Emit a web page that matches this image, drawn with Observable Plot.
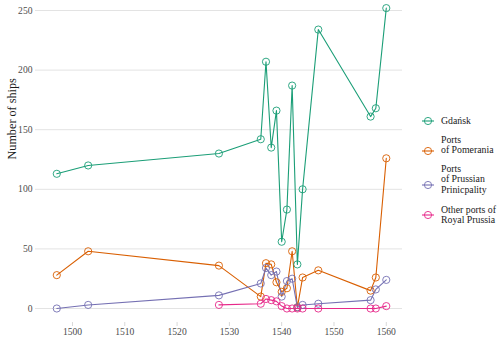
<!DOCTYPE html>
<html>
<head>
<meta charset="utf-8">
<script src="https://cdn.jsdelivr.net/npm/d3@7"></script>
<script src="https://cdn.jsdelivr.net/npm/@observablehq/plot@0.6"></script>
<style>
  body { margin: 0; background: #fff; }
  #wrap { position: relative; width: 500px; height: 340px; font-family: "Liberation Serif", "Times New Roman", Times, "DejaVu Serif", serif; }
  #wrap svg text { font-family: "Liberation Serif", "Times New Roman", Times, "DejaVu Serif", serif !important; }
  .leg { position: absolute; font-size: 9.8px; line-height: 10.5px; color: #1a1a1a; white-space: nowrap; font-family: "Liberation Serif", "Times New Roman", Times, serif; }
  .key { position: absolute; }
</style>
</head>
<body>
<div id="wrap"></div>
<script>
const years = [1497,1503,1528,1536,1537,1538,1539,1540,1541,1542,1543,1544,1547,1557,1558,1560];
const gdansk =    [113,120,130,142,207,135,166,56,83,187,37,100,234,161,168,252];
const pomerania = [28,48,36,10,38,37,22,14,17,48,1,26,32,15,26,126];
const prussian =  [0,3,11,21,34,28,31,10,23,25,1,3,4,7,16,24];
const other =     [null,null,3,4,8,7,6,2,0,0,0,0,0,0,0,2];
const seriesNames = ["Gdańsk", "Ports\nof Pomerania", "Ports\nof Prussian\nPrinicpality", "Other ports of\nRoyal Prussia"];
const colors = ["#1b9e77", "#d95f02", "#7570b3", "#e7298a"];
const yTicks = [0, 50, 100, 150, 200, 250];
const xTicks = [1500, 1510, 1520, 1530, 1540, 1550, 1560];

const valueLists = [gdansk, pomerania, prussian, other];
const data = [];
valueLists.forEach((vals, s) => {
  vals.forEach((v, i) => {
    if (v !== null) data.push({series: seriesNames[s], year: years[i], ships: v});
  });
});

const serif = '"Liberation Serif", "Times New Roman", Times, serif';
const chart = Plot.plot({
  width: 500,
  height: 340,
  marginLeft: 35,
  marginRight: 98,
  marginTop: 10,
  marginBottom: 32,
  style: { fontFamily: serif, fontSize: "9.6px", background: "#fff" },
  x: { domain: [1492.93, 1563.1] },
  y: { domain: [0, 250] },
  color: { domain: seriesNames, range: colors },
  marks: [
    Plot.ruleY(yTicks, { stroke: "#e3e3e3", strokeWidth: 1 }),
    Plot.axisY({ ticks: yTicks, tickSize: 0, tickPadding: 3, label: null, fill: "#4d4d4d", fontFamily: serif }),
    Plot.axisX({ ticks: xTicks, tickFormat: d => String(d), tickSize: 4, tickPadding: 1.5, dy: 14, label: null, stroke: "#d9d9d9", fill: "#4d4d4d", fontFamily: serif }),
    Plot.text(["Number of ships"], { frameAnchor: "left", dx: -23, rotate: -90, fontSize: 12.2, fill: "#1a1a1a", fontFamily: serif }),
    Plot.line(data, { x: "year", y: "ships", stroke: "series", z: "series", strokeWidth: 1.1 }),
    Plot.dot(data, { x: "year", y: "ships", stroke: "series", r: 3.6, strokeWidth: 0.9, fill: "none" })
  ]
});

const wrap = document.getElementById("wrap");
wrap.appendChild(chart);

// legend
const legendTextTop = [115.5, 134.8, 163.7, 204.5];
const legendKeyY = [120.7, 150.7, 185, 214.5];
seriesNames.forEach((name, i) => {
  const t = document.createElement("div");
  t.className = "leg";
  t.style.left = "441px";
  t.style.top = legendTextTop[i] + "px";
  t.innerHTML = name.split("\n").join("<br>");
  wrap.appendChild(t);
  const ns = "http://www.w3.org/2000/svg";
  const svg = document.createElementNS(ns, "svg");
  svg.setAttribute("width", 16);
  svg.setAttribute("height", 10);
  svg.setAttribute("class", "key");
  svg.style.left = (428.3 - 8) + "px";
  svg.style.top = (legendKeyY[i] - 5) + "px";
  const ln = document.createElementNS(ns, "line");
  ln.setAttribute("x1", 2); ln.setAttribute("x2", 14);
  ln.setAttribute("y1", 5); ln.setAttribute("y2", 5);
  ln.setAttribute("stroke", colors[i]); ln.setAttribute("stroke-width", 1.1);
  svg.appendChild(ln);
  const c = document.createElementNS(ns, "circle");
  c.setAttribute("cx", 8); c.setAttribute("cy", 5); c.setAttribute("r", 3.6);
  c.setAttribute("fill", "none"); c.setAttribute("stroke", colors[i]); c.setAttribute("stroke-width", 0.9);
  svg.appendChild(c);
  wrap.appendChild(svg);
});
</script>
</body>
</html>
